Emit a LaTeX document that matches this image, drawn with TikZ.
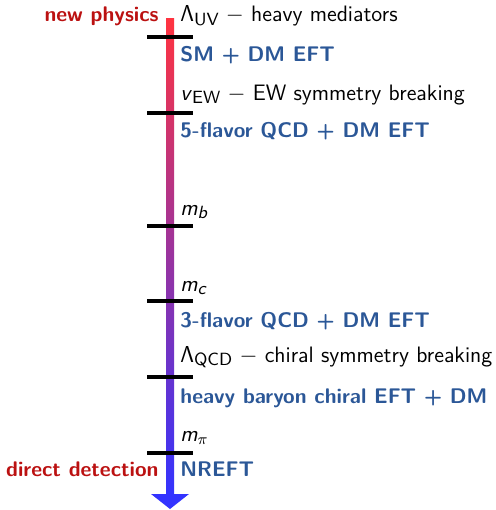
\documentclass[tikz,border=0pt]{standalone}
\usetikzlibrary{arrows.meta}
\definecolor{physred}{HTML}{BB1111}
\definecolor{efblue}{HTML}{2B5797}
\definecolor{topred}{HTML}{FF3340}
\definecolor{botblue}{HTML}{3333FF}
\newcommand{\sub}[1]{\raisebox{-0.35ex}{\fontsize{9.2}{10}\selectfont\upshape #1}}
\newcommand{\isub}[1]{\raisebox{-0.35ex}{\fontsize{9.2}{10}\selectfont\itshape #1}}
\newcommand{\dsh}{\ $-$\ }
\begin{document}
\begin{tikzpicture}[x=0.52pt,y=-0.52pt,
  lab/.style={anchor=base west,inner sep=0pt,font=\fontsize{11.6}{13}\selectfont\sffamily},
  eft/.style={anchor=base west,inner sep=0pt,font=\fontsize{11}{13}\selectfont\sffamily\bfseries,text=efblue},
  side/.style={anchor=base east,inner sep=0pt,font=\fontsize{11}{13}\selectfont\sffamily\bfseries,text=physred},
  tick/.style={line width=1.6pt,black}]
\useasboundingbox (0,0) rectangle (495,510);
% shaft with gradient
\shade[top color=topred,bottom color=botblue] (166,19) rectangle (174,495);
% arrow head
\fill[botblue] (151,494) -- (189,494) -- (170,509) -- cycle;
% scale ticks
\foreach \y/\n in {37/t1,113/t2,226/t3,301/t4,377/t5,453/t6}{
  \coordinate (\n a) at (147,\y);
  \coordinate (\n b) at (193,\y);
  \draw[tick] (\n a) -- (\n b);
}
% left labels
\node[side] (np) at (159,22) {new physics};
\node[side] (dd) at (159,476) {direct detection};
% right labels
\node[lab] (uv) at (180,22) {$\mathsf{\Lambda}$\sub{UV}\dsh heavy mediators};
\node[eft] (sm) at (180,62) {SM + DM EFT};
\node[lab] (ew) at (180,100) {\textit{v}\sub{EW}\dsh EW symmetry breaking};
\node[eft] (f5) at (180,138) {5-flavor QCD + DM EFT};
\node[lab] (mb) at (180,215) {\textit{m}\isub{b}};
\node[lab] (mc) at (180,291) {\textit{m}\isub{c}};
\node[eft] (f3) at (180,327) {3-flavor QCD + DM EFT};
\node[lab] (qcd) at (180,362) {$\mathsf{\Lambda}$\sub{QCD}\dsh chiral symmetry breaking};
\node[eft] (hb) at (180,403) {heavy baryon chiral EFT + DM};
\node[lab] (mpi) at (180,441) {\textit{m}$_{\pi}$};
\node[eft] (nr) at (180,476) {NREFT};
\end{tikzpicture}
\end{document}
